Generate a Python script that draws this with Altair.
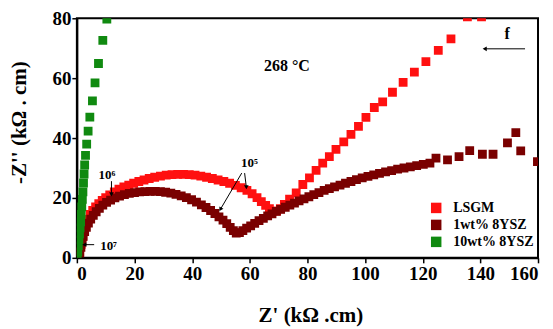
import altair as alt
import pandas as pd

# ---------------- data ----------------
series_names = ["LSGM", "1wt% 8YSZ", "10wt% 8YSZ"]
series_colors = ["#ff1010", "#7a0000", "#108a10"]

lsgm_x = [1.0, 1.5, 2.0, 2.5, 3.0, 3.8, 4.6, 5.5, 6.5, 7.6, 8.8, 10.0, 11.4, 13.0, 14.6,
          16.3, 18.0, 19.7, 21.5, 23.3, 25.1, 27.0, 29.0, 31.0, 33.0, 35.0, 37.0, 39.0,
          41.0, 43.0, 45.0, 47.0, 49.0, 51.0, 53.0, 55.0, 57.0, 59.0, 60.8, 62.5, 64.0,
          65.5, 66.8, 68.0, 69.3, 70.6, 72.0, 73.8, 76.1, 78.4, 80.7, 83.0, 85.3, 87.6,
          89.9, 92.6, 95.1, 97.7, 100.3, 103.2, 106.1, 109.5, 113.2, 117.1, 121.1, 125.4,
          129.8, 135.5, 140.4]
lsgm_y = [2.0, 4.5, 7.0, 9.0, 11.0, 12.8, 14.5, 15.8, 17.0, 18.1, 19.2, 20.1, 21.0, 22.0, 22.9,
          23.7, 24.3, 24.9, 25.5, 26.0, 26.5, 26.9, 27.3, 27.6, 27.8, 27.9, 27.9, 27.8,
          27.6, 27.3, 26.9, 26.5, 26.0, 25.5, 24.9, 24.2, 23.4, 22.5, 21.4, 20.1, 18.8,
          17.5, 16.4, 15.6, 15.6, 16.4, 17.8, 19.6, 21.7, 24.5, 26.7, 29.2, 31.6, 33.8,
          36.2, 38.7, 41.2, 43.9, 46.9, 50.2, 52.1, 55.3, 58.6, 62.0, 65.5, 69.3,
          73.1, 80.5, 80.5]

ysz1_x = [1.0, 1.4, 1.8, 2.2, 2.7, 3.3, 4.0, 4.8, 5.7, 6.7, 7.8, 9.0, 10.3, 11.7, 13.2, 14.8,
          16.5, 18.2, 20.0, 21.8, 23.6, 25.4, 27.2, 29.0, 30.8, 32.6, 34.4, 36.2, 38.0, 39.8,
          41.5, 43.2, 44.8, 46.4, 47.9, 49.3, 50.7, 52.0, 53.2, 54.3, 55.3, 56.4, 57.6, 58.9,
          60.3, 61.7, 63.2, 64.7, 66.2, 67.7, 69.2, 70.7, 72.3, 73.9, 75.5, 77.1, 78.8, 80.5,
          82.2, 84.0, 85.8, 87.6, 89.4, 91.3, 93.2, 95.1, 97.0, 99.0, 101.0, 103.0, 105.0,
          107.1, 109.2, 111.3, 113.5, 115.7, 117.9, 120.2, 122.5, 124.6, 128.6, 132.6, 136.3,
          140.7, 144.4, 149.4, 152.3, 154.0, 159.8]
ysz1_y = [1.6, 3.5, 5.5, 7.2, 8.8, 10.2, 11.6, 12.9, 14.2, 15.4, 16.5, 17.6, 18.5, 19.3, 20.0, 20.6,
          21.1, 21.5, 21.8, 22.0, 22.1, 22.2, 22.2, 22.1, 21.9, 21.6, 21.2, 20.7, 20.1, 19.4,
          18.6, 17.7, 16.8, 15.8, 14.8, 13.7, 12.6, 11.4, 10.2, 9.1, 8.3, 8.4, 9.1, 9.9,
          10.7, 11.5, 12.4, 13.2, 14.0, 14.7, 15.5, 16.2, 16.9, 17.6, 18.3, 19.0, 19.7, 20.4,
          21.1, 21.8, 22.5, 23.1, 23.7, 24.3, 24.9, 25.5, 26.1, 26.7, 27.2, 27.7, 28.2,
          28.7, 29.1, 29.6, 30.0, 30.4, 30.8, 31.2, 31.6, 33.3, 32.7, 33.8, 35.8,
          34.6, 34.6, 38.4, 41.8, 35.7, 32.1]

ysz10_x = [0.1, 0.3, 0.5, 0.7, 0.9, 1.1, 1.3, 1.5, 1.7, 1.9, 2.1, 2.3, 2.5, 2.7, 3.0, 3.4,
           3.9, 4.5, 5.4, 6.3, 7.5, 9.0, 10.4]
ysz10_y = [0.5, 2.0, 4.0, 6.0, 8.0, 10.0, 12.0, 14.5, 17.0, 19.5, 22.0, 25.0, 28.0, 31.0, 34.2, 38.0,
           42.3, 47.0, 52.4, 58.4, 64.9, 72.6, 79.7]

x_ticks = list(range(0, 161, 10))
y_ticks = list(range(0, 81, 10))

# annotations (text, x, y)
ann_text = ["268 °C", "f", "10⁶", "10⁵", "10⁷"]
ann_x = [72.9, 149.3, 10.4, 59.9, 11.0]
ann_y = [64.0, 74.8, 27.6, 31.8, 4.0]
ann_size = [16, 16, 13, 13, 13]

# arrow shafts (x, y, x2, y2)
arr_x = [155.5, 12.0, 58.2, 57.2, 6.0]
arr_y = [69.8, 25.6, 28.3, 28.3, 4.4]
arr_x2 = [141.5, 12.0, 58.8, 49.8, 2.6]
arr_y2 = [69.8, 21.2, 23.6, 16.2, 4.4]
# arrow heads (x, y, shape, angle)
head_x = [141.5, 12.0, 58.8, 49.8, 2.6]
head_y = [69.8, 21.2, 23.6, 16.2, 4.4]
head_shape = ["triangle-left", "triangle-down", "triangle-down", "triangle-up", "triangle-left"]
head_angle = [0, 0, 0, 209, 0]

# ---------------- tables ----------------
rows = []
for name, xs, ys in zip(series_names, [lsgm_x, ysz1_x, ysz10_x], [lsgm_y, ysz1_y, ysz10_y]):
    rows += [{"series": name, "zr": a, "zi": b} for a, b in zip(xs, ys)]
df = pd.DataFrame(rows)
df["order"] = df["series"].map({n: i for i, n in enumerate(series_names)})

ann_df = pd.DataFrame({"t": ann_text, "x": ann_x, "y": ann_y, "s": ann_size})
arr_df = pd.DataFrame({"x": arr_x, "y": arr_y, "x2": arr_x2, "y2": arr_y2})
head_df = pd.DataFrame({"x": head_x, "y": head_y, "shape": head_shape, "angle": head_angle})

FONT = "Liberation Serif"
xs = alt.Scale(domain=[0, 160], nice=False)
ys = alt.Scale(domain=[0, 80], nice=False)

x_axis = alt.Axis(
    values=x_ticks,
    labelExpr="datum.value % 20 == 0 ? datum.label : ''",
    title="Z' (kΩ .cm)",
    titleX=234, titleY=58, titleAlign="center", titleBaseline="middle",
    labelPadding=2,
)
y_axis = alt.Axis(
    values=y_ticks,
    labelExpr="datum.value % 20 == 0 ? datum.label : ''",
    title="-Z'' (kΩ . cm)",
    titleX=-57, titleY=104, titleAngle=270, titleAlign="center", titleBaseline="middle",
    labelPadding=1,
)

points = alt.Chart(df).mark_square(size=78, opacity=1, clip=True).encode(
    x=alt.X("zr:Q", scale=xs, axis=x_axis),
    y=alt.Y("zi:Q", scale=ys, axis=y_axis),
    color=alt.Color(
        "series:N",
        scale=alt.Scale(domain=series_names, range=series_colors),
        legend=alt.Legend(
            title=None, orient="none", legendX=353, legendY=183,
            symbolType="square", symbolSize=110, symbolStrokeWidth=0,
            labelFont=FONT, labelFontWeight="bold", labelFontSize=14, labelColor="black",
            rowPadding=3, labelOffset=10, padding=0,
        ),
    ),
    order=alt.Order("order:Q"),
)

texts = alt.Chart(ann_df).mark_text(font=FONT, fontWeight="bold", color="black").encode(
    x=alt.X("x:Q", scale=xs), y=alt.Y("y:Q", scale=ys), text="t:N",
    size=alt.Size("s:Q", scale=None, legend=None),
)

shafts = alt.Chart(arr_df).mark_rule(color="black", strokeWidth=1).encode(
    x=alt.X("x:Q", scale=xs), y=alt.Y("y:Q", scale=ys), x2="x2:Q", y2="y2:Q",
)

heads = alt.Chart(head_df).mark_point(filled=True, color="black", opacity=1, size=22).encode(
    x=alt.X("x:Q", scale=xs), y=alt.Y("y:Q", scale=ys),
    shape=alt.Shape("shape:N", scale=None, legend=None),
    angle=alt.Angle("angle:Q", scale=None),
)

chart = (
    alt.layer(points, shafts, heads, texts)
    .properties(
        width=462, height=240,
        autosize=alt.AutoSizeParams(type="none"),
        padding={"left": 69, "top": 10, "right": 7, "bottom": 70},
    )
    .configure_view(stroke="black", strokeWidth=2)
    .configure_axis(
        grid=False, domainColor="black", domainWidth=2, tickColor="black", tickWidth=1.5,
        tickSize=5, labelFont=FONT, labelFontWeight="bold", labelFontSize=19,
        labelColor="black", titleFont=FONT, titleFontWeight="bold", titleFontSize=21,
        titleColor="black",
    )
)

chart.save("out.html", embed_options={"renderer": "svg", "actions": False})
